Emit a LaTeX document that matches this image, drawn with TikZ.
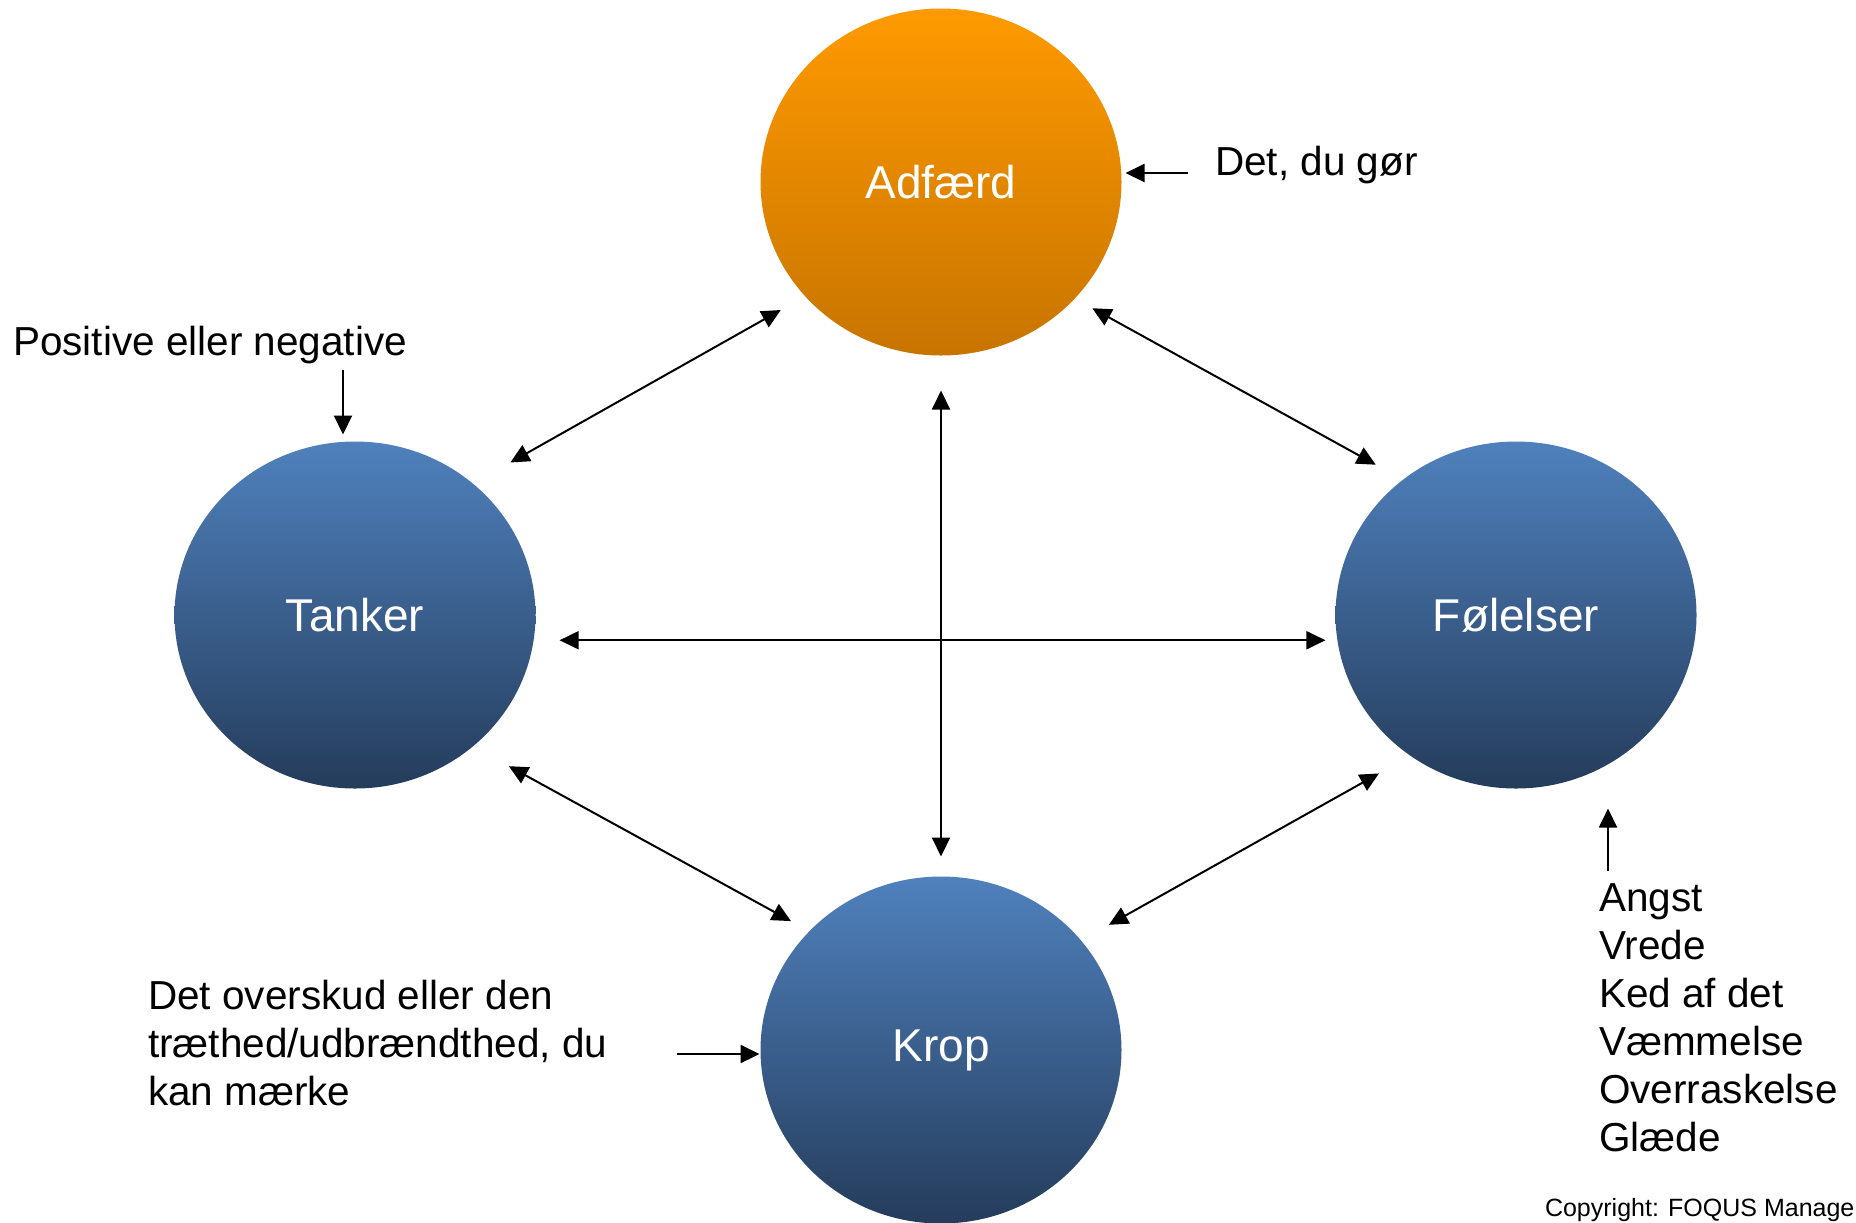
\documentclass[tikz,border=0pt]{standalone}
\usepackage{fontspec}
\setmainfont{Liberation Sans}
\usetikzlibrary{arrows.meta,shapes.geometric}
\definecolor{bluetop}{RGB}{79,129,189}
\definecolor{bluebot}{RGB}{37,60,91}
\definecolor{orangetop}{RGB}{255,154,0}
\definecolor{orangebot}{RGB}{199,116,0}

\begin{document}
\begin{tikzpicture}[x=0.5pt,y=-0.5pt,line width=1pt,
    >={Triangle[length=9.5pt,width=9pt]},
    bubble/.style={ellipse,minimum width=180.5pt,minimum height=173.5pt,inner sep=0pt,
      text=white,font=\fontsize{23pt}{27pt}\selectfont},
    blue bubble/.style={bubble,top color=bluetop,bottom color=bluebot},
    note/.style={inner sep=0pt,align=left,font=\fontsize{20.25pt}{24pt}\selectfont}]
  \useasboundingbox (0,0) rectangle (1856,1222);

  \node[bubble,top color=orangetop,bottom color=orangebot] (a) at (941,182) {Adfærd};
  \node[blue bubble] (t) at (355,615) {Tanker};
  \node[blue bubble] (f) at (1516,615) {Følelser};
  \node[blue bubble] (k) at (941,1050) {Krop};

  \draw[<->,shorten <=21pt,shorten >=13.5pt] (t.48) -- (a.220);
  \draw[<->,shorten <=9.5pt,shorten >=15pt] (a.319) -- (f.130);
  \draw[<->,shorten <=17pt,shorten >=9.5pt] (a.south) -- (k.north);
  \draw[<->,shorten <=12.5pt,shorten >=5.5pt] (t.-8) -- (f.188);
  \draw[<->,shorten <=20pt,shorten >=10pt] (t.-48) -- (k.138);
  \draw[<->,shorten <=15.5pt,shorten >=17.5pt] (k.38) -- (f.233);

  % labels round the circles
  \node[note,anchor=base west] (pos) at (12,355) {Positive eller negative};
  \coordinate (posend) at (343,370);
  \draw[->,shorten >=3pt] (posend) -- (posend |- t.north);

  \node[note,anchor=base west] (gor) at (1214,175) {Det, du gør};
  \coordinate (gorend) at (1188,173);
  \draw[->,shorten >=1.5pt] (gorend) -- (gorend -| a.east);

  % base of a multi-line node is its last line
  \node[note,anchor=base west] (ov) at (147,1105) {Det overskud eller den\\træthed/udbrændthed, du\\kan mærke};
  \coordinate (ovend) at (677,1054);
  \draw[->] (ovend) -- (ovend -| k.west);

  \node[note,anchor=base west] (fl) at (1598,1151) {Angst\\Vrede\\Ked af det\\Væmmelse\\Overraskelse\\Glæde};
  \coordinate (flend) at (1608,871);
  \draw[->,shorten >=9.5pt] (flend) -- (flend |- f.south);

  \node[inner sep=0pt,anchor=base west,font=\fontsize{12.5pt}{15pt}\selectfont] (copy) at (1544,1216) {Copyright: FOQUS Manage};
\end{tikzpicture}
\end{document}
